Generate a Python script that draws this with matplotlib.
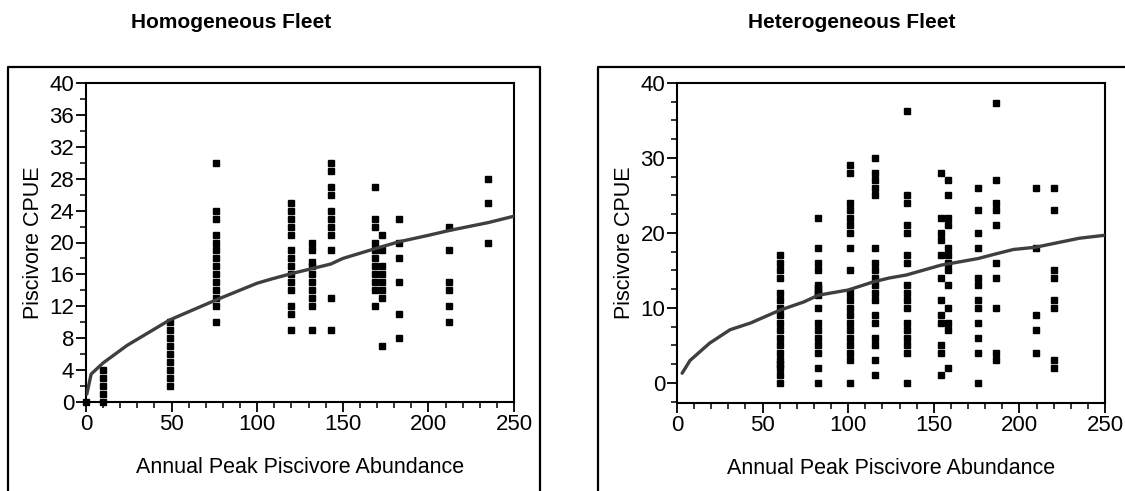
"""Piscivore CPUE vs annual peak piscivore abundance, homogeneous vs heterogeneous fleet."""

import matplotlib
matplotlib.use("Agg")
import matplotlib.pyplot as plt
from matplotlib.lines import Line2D
from matplotlib.ticker import MultipleLocator

plt.rcParams["font.family"] = ["Liberation Sans", "DejaVu Sans"]

# ---- homogeneous fleet: (abundance, list of CPUE values) ------------------
homo_x = [0, 10, 49, 76, 120, 132, 143, 169, 173, 183, 212, 235]
homo_y = [
    [0],
    [0, 1, 2, 3, 4],
    [2, 3, 4, 5, 6, 7, 8, 9, 10],
    [10, 12, 13, 14, 15, 16, 17, 18, 19, 20, 21, 23, 24, 30],
    [9, 11, 12, 14, 15, 16, 17, 18, 19, 21, 22, 23, 24, 25],
    [9, 12, 13, 14, 15, 16, 17, 17.5, 19, 20],
    [9, 13, 19, 21, 22, 23, 24, 26, 27, 29, 30],
    [12, 14, 15, 16, 17, 18, 19, 20, 22, 23, 27],
    [7, 13, 14, 15, 16, 17, 19, 21],
    [8, 11, 15, 18, 20, 23],
    [10, 12, 14, 15, 19, 22],
    [20, 25, 28],
]
homo_fit_x = [0.5, 3, 10, 24, 49, 76, 100, 108, 120, 143, 150, 170, 183, 200, 212, 235, 250]
homo_fit_y = [1.0, 3.5, 4.9, 7.1, 10.3, 12.8, 14.9, 15.4, 16.1, 17.3, 18.0, 19.3, 20.1, 20.9, 21.5, 22.5, 23.3]

# ---- heterogeneous fleet --------------------------------------------------
hetero_x = [60, 82.5, 101, 115.5, 134.5, 154, 158.5, 176, 186.5, 209.5, 220]
hetero_y = [
    [0, 1, 2, 2.5, 3, 4, 5, 6, 7, 8, 9, 10, 11, 12, 14, 15, 16, 17],
    [0, 2, 4, 5, 6, 7, 8, 10, 11.7, 12, 12.3, 12.6, 13, 15, 16, 18, 22],
    [0, 3, 4, 5, 6, 7, 8, 9, 10, 11, 12, 15, 18, 20, 21, 22, 23, 24, 28, 29],
    [1, 3, 5, 6, 8, 9, 11, 12, 13, 14, 15, 16, 18, 25, 26, 27, 28, 30],
    [0, 4, 5, 6, 7, 8, 10, 11, 12, 13, 16, 17, 20, 21, 24, 25, 36.3],
    [1, 4, 5, 8, 9, 11, 14, 17, 19, 20, 22, 28],
    [2, 7, 8, 10, 13, 15, 16, 17, 18, 21, 22, 25, 27],
    [0, 4, 6, 8, 10, 11, 13, 14, 18, 20, 23, 26],
    [3, 4, 10, 14, 16, 21, 23, 24, 27, 37.3],
    [4, 7, 9, 18, 26],
    [2, 3, 10, 11, 14, 15, 23, 26],
]
hetero_fit_x = [3, 7.6, 19, 31, 43, 60, 74, 82.5, 100, 115, 124, 134, 154, 176, 186, 196.5, 209.5, 220, 235, 250]
hetero_fit_y = [1.3, 3.0, 5.3, 7.1, 8.0, 9.7, 10.8, 11.7, 12.4, 13.5, 14.0, 14.4, 15.7, 16.6, 17.2, 17.8, 18.1, 18.6, 19.3, 19.7]

W, H = 1125, 491
fig = plt.figure(figsize=(W / 100, H / 100), dpi=100)


def px_axes(left, top, right, bottom):
    return fig.add_axes([left / W, 1 - bottom / H, (right - left) / W, (bottom - top) / H])


def style(ax, ylim, ymajor, yminor):
    ax.set_xlim(0, 250)
    ax.set_ylim(*ylim)
    ax.xaxis.set_major_locator(MultipleLocator(50))
    ax.xaxis.set_minor_locator(MultipleLocator(10))
    ax.yaxis.set_major_locator(MultipleLocator(ymajor))
    ax.yaxis.set_minor_locator(MultipleLocator(yminor))
    ax.tick_params(which="major", direction="out", length=7, width=1.3, labelsize=16, pad=1.5)
    ax.tick_params(which="minor", direction="out", length=4, width=1.1)
    for s in ax.spines.values():
        s.set_linewidth(1.5)
    ax.set_xlabel("Annual Peak Piscivore Abundance", fontsize=15.5, labelpad=16)
    ax.set_ylabel("Piscivore CPUE", fontsize=15.5, labelpad=4)


def draw(ax, xs, ys, fx, fy):
    for x, col in zip(xs, ys):
        ax.plot([x] * len(col), col, ls="none", marker="s", ms=4, color="black", clip_on=False, zorder=3)
    ax.plot(fx, fy, color="#3f3f3f", lw=2.4, solid_capstyle="round", zorder=4)


ax1 = px_axes(86, 83, 514, 402)
draw(ax1, homo_x, homo_y, homo_fit_x, homo_fit_y)
style(ax1, (0, 40), 4, 2)

ax2 = px_axes(677, 83, 1105, 403)
draw(ax2, hetero_x, hetero_y, hetero_fit_x, hetero_fit_y)
style(ax2, (-2.67, 40), 10, 2.5)

# panel frames (open at the bottom)
def fline(xs, ys):
    fig.add_artist(Line2D([x / W for x in xs], [1 - y / H for y in ys], color="black", lw=1.6))


fline([8, 8, 540, 540], [H + 5, 67, 67, H + 5])
fline([598, 598, W + 5], [H + 5, 67, 67])

fig.text(231 / W, 1 - 22 / H, "Homogeneous Fleet", ha="center", va="center", fontsize=15, fontweight="bold")
fig.text(852 / W, 1 - 22 / H, "Heterogeneous Fleet", ha="center", va="center", fontsize=15, fontweight="bold")

fig.savefig("out.png", dpi=100)
